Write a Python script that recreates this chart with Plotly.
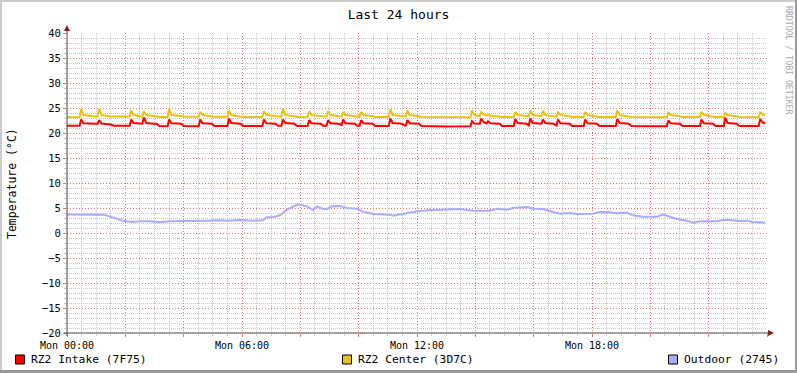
import plotly.graph_objects as go

# ---------------- data (minutes since Mon 00:00) ----------------
T_RZ = [0, 26, 29, 34, 60, 63, 66, 71, 90, 96,
        129, 132, 137, 152, 155, 158, 163, 185, 190,
        207, 210, 215, 235, 240,
        271, 274, 279, 298, 303,
        330, 333, 338, 357, 362,
        402, 405, 410, 429, 434, 441, 444, 449, 468, 473,
        495, 498, 503, 522, 527, 534, 537, 542, 560, 565, 568, 573, 592, 597, 602, 605, 610, 629, 634,
        662, 665, 670, 689, 694, 697, 700, 705, 724, 729,
        780,
        830, 833, 838, 849, 852, 857, 863, 866, 871, 890, 895,
        919, 922, 927, 945, 950, 953, 958, 973, 976, 979, 984, 1000, 1007, 1010, 1015, 1034, 1039,
        1063, 1066, 1071, 1090, 1095,
        1129, 1132, 1137, 1156, 1161,
        1200,
        1234, 1237, 1242, 1261, 1266,
        1302, 1305, 1310, 1329, 1334,
        1351, 1354, 1359, 1378, 1383,
        1423, 1426, 1431, 1436]

INTAKE = [21.45, 21.45, 22.7, 21.95, 21.85, 21.85, 22.55, 21.9, 21.7, 21.45,
          21.45, 22.7, 22.0, 21.85, 21.85, 23.1, 22.0, 21.8, 21.4,
          21.35, 22.7, 21.95, 21.85, 21.4,
          21.35, 22.7, 21.95, 21.85, 21.4,
          21.4, 22.9, 22.0, 21.85, 21.4,
          21.4, 22.7, 21.95, 21.85, 21.45, 21.45, 22.7, 22.0, 21.85, 21.4,
          21.4, 22.55, 21.95, 21.85, 21.45, 21.45, 22.55, 21.95, 21.85, 21.6, 22.7, 21.95, 21.85, 21.45, 21.45, 22.55, 21.95, 21.85, 21.4,
          21.4, 22.9, 22.0, 21.85, 21.5, 21.5, 22.55, 21.95, 21.85, 21.4,
          21.3,
          21.35, 22.35, 21.9, 21.85, 22.9, 22.2, 21.9, 22.35, 21.95, 21.85, 21.4,
          21.4, 22.8, 22.0, 21.85, 21.5, 22.9, 22.0, 21.85, 21.85, 22.7, 22.0, 21.85, 21.5, 22.7, 21.95, 21.85, 21.4,
          21.4, 22.7, 21.95, 21.85, 21.4,
          21.4, 22.8, 22.0, 21.85, 21.4,
          21.35,
          21.35, 22.5, 21.95, 21.85, 21.4,
          21.4, 22.7, 21.95, 21.85, 21.4,
          21.4, 23.05, 22.0, 21.85, 21.4,
          21.4, 22.8, 22.1, 22.0]

CENTER = [23.15, 23.15, 24.8, 23.6, 23.3, 23.3, 24.8, 23.6, 23.3, 23.3,
          23.3, 24.5, 23.6, 23.3, 23.3, 24.3, 23.6, 23.3, 23.2,
          23.2, 24.8, 23.6, 23.35, 23.3,
          23.25, 24.2, 23.6, 23.35, 23.25,
          23.25, 24.5, 23.6, 23.35, 23.2,
          23.2, 24.35, 23.6, 23.3, 23.25, 23.25, 24.9, 23.6, 23.35, 23.2,
          23.25, 24.35, 23.6, 23.35, 23.25, 23.25, 24.35, 23.6, 23.35, 23.3, 24.2, 23.6, 23.35, 23.25, 23.25, 24.2, 23.6, 23.35, 23.2,
          23.2, 24.7, 23.6, 23.35, 23.3, 23.3, 24.5, 23.6, 23.35, 23.2,
          23.15,
          23.15, 24.5, 23.6, 23.4, 24.2, 23.7, 23.45, 23.7, 23.45, 23.3, 23.2,
          23.2, 24.15, 23.6, 23.35, 23.3, 24.5, 23.6, 23.4, 23.4, 24.45, 23.6, 23.35, 23.3, 24.15, 23.6, 23.35, 23.2,
          23.2, 24.2, 23.6, 23.35, 23.2,
          23.2, 24.5, 23.6, 23.35, 23.2,
          23.15,
          23.15, 24.15, 23.6, 23.35, 23.2,
          23.2, 24.2, 23.6, 23.35, 23.2,
          23.2, 24.0, 23.6, 23.35, 23.2,
          23.15, 24.2, 23.7, 23.6]

T_OUT = [0, 74, 88, 115, 134, 150, 171, 191, 212, 239, 259, 288, 315, 329, 356, 383, 403,
         411, 424, 438, 453, 465, 475, 494, 506, 514, 527, 535, 545, 562, 576, 597, 607,
         630, 664, 671, 691, 712, 741, 773, 808, 835, 870, 885, 905, 917, 946, 959, 979,
         1000, 1014, 1035, 1049, 1082, 1096, 1117, 1131, 1152, 1164, 1185, 1214, 1226,
         1240, 1255, 1275, 1288, 1302, 1337, 1349, 1364, 1384, 1399, 1411, 1432, 1436]
OUTDOOR = [3.7, 3.67, 3.33, 2.47, 2.2, 2.33, 2.33, 2.13, 2.33, 2.33, 2.47, 2.47, 2.53, 2.47, 2.6, 2.47, 2.53,
           3.13, 3.2, 3.53, 4.67, 5.33, 5.73, 5.33, 4.6, 5.33, 4.8, 4.8, 5.33, 5.4, 5.0, 4.87, 4.33,
           3.8, 3.67, 3.47, 3.87, 4.2, 4.53, 4.67, 4.8, 4.47, 4.47, 4.87, 4.67, 5.0, 5.2, 4.87, 4.8,
           4.2, 3.87, 4.0, 3.8, 3.87, 4.2, 4.13, 3.93, 4.07, 3.53, 3.27, 3.27, 3.67,
           3.2, 2.8, 2.47, 2.07, 2.33, 2.33, 2.6, 2.6, 2.4, 2.47, 2.2, 2.13, 2.1]

SERIES_NAMES = ["RZ2 Intake (7F75)", "RZ2 Center (3D7C)", "Outdoor (2745)"]
SERIES_COLORS = ["#FF0000", "#EAC117", "#AAAAFF"]

X_TICKS = list(range(0, 1441, 120))
X_TICKTEXT = ["Mon 00:00", "", "", "Mon 06:00", "", "", "Mon 12:00", "", "",
              "Mon 18:00", "", "", ""]
Y_RANGE = [-20, 40]

TITLE = "Last 24 hours"
Y_TITLE = "Temperature (°C)"
WATERMARK = "RRDTOOL / TOBI OETIKER"

# ---------------- layout geometry ----------------
FW, FH = 797, 373
L, R, T, B = 67, 767, 33, 333
PW, PH = R - L, B - T
FONT = "DejaVu Sans Mono"


def px(xp):
    return (xp - L) / PW


def py(yp):
    return (B - yp) / PH


fig = go.Figure()
for tx, vals, name, col in [(T_RZ, INTAKE, SERIES_NAMES[0], SERIES_COLORS[0]),
                            (T_RZ, CENTER, SERIES_NAMES[1], SERIES_COLORS[1]),
                            (T_OUT, OUTDOOR, SERIES_NAMES[2], SERIES_COLORS[2])]:
    fig.add_trace(go.Scatter(x=tx, y=vals, mode="lines", name=name,
                             line=dict(color=col, width=2), showlegend=False,
                             cliponaxis=True, hoverinfo="skip"))

MGRID = "#E87070"
GRID = "#C8C8C8"
AXIS = "#4c4444"

# minor grid positions (skip those that coincide with major lines)
X_MINOR = [m for m in range(0, 1441, 30) if m % 120 != 0]
Y_MINOR = [v for v in range(-20, 41) if v % 5 != 0]

fig.update_xaxes(range=[0, 1440], tickmode="array", tickvals=X_TICKS, ticktext=X_TICKTEXT,
                 showgrid=True, gridcolor=MGRID, griddash="1px,2px", gridwidth=1,
                 zeroline=False, showline=False, ticks="outside", ticklen=3, tickcolor=MGRID,
                 tickfont=dict(family=FONT, size=10, color="#000"),
                 minor=dict(tickmode="array", tickvals=X_MINOR, showgrid=True, gridcolor=GRID,
                            griddash="1px,1px", gridwidth=1, ticks="outside", ticklen=2, tickcolor=GRID))
fig.update_yaxes(range=Y_RANGE, tickmode="linear", tick0=-20, dtick=5,
                 showgrid=True, gridcolor=MGRID, griddash="1px,2px", gridwidth=1,
                 zeroline=False, showline=False, ticks="outside", ticklen=3, tickcolor=MGRID,
                 tickfont=dict(family=FONT, size=10.5, color="#000"),
                 minor=dict(tickmode="array", tickvals=Y_MINOR, showgrid=True, gridcolor=GRID,
                            griddash="1px,1px", gridwidth=1, ticks="outside", ticklen=2, tickcolor=GRID))

shapes = []
# axis lines
shapes.append(dict(type="line", xref="paper", yref="paper", x0=px(L), x1=px(L), y0=py(B + 3), y1=py(29),
                   line=dict(color=AXIS, width=1), layer="above"))
shapes.append(dict(type="line", xref="paper", yref="paper", x0=px(L - 3), x1=px(R + 2), y0=py(B), y1=py(B),
                   line=dict(color=AXIS, width=1), layer="above"))
# arrows
ARROW = "#8B1E1E"
shapes.append(dict(type="path", xref="paper", yref="paper",
                   path=f"M {px(L-3)} {py(31)} L {px(L+3)} {py(31)} L {px(L)} {py(25)} Z",
                   fillcolor=ARROW, line=dict(color=ARROW, width=0), layer="above"))
shapes.append(dict(type="path", xref="paper", yref="paper",
                   path=f"M {px(R+1)} {py(B-3)} L {px(R+1)} {py(B+3)} L {px(R+7)} {py(B)} Z",
                   fillcolor=ARROW, line=dict(color=ARROW, width=0), layer="above"))
# frame shading
LIGHT, DARK = "#CBCBCB", "#999999"
shapes.append(dict(type="rect", xref="paper", yref="paper", x0=px(0), x1=px(2), y0=py(0), y1=py(FH),
                   fillcolor=LIGHT, line=dict(width=0), layer="above"))
shapes.append(dict(type="rect", xref="paper", yref="paper", x0=px(0), x1=px(FW), y0=py(0), y1=py(2),
                   fillcolor=LIGHT, line=dict(width=0), layer="above"))
shapes.append(dict(type="rect", xref="paper", yref="paper", x0=px(FW - 2), x1=px(FW), y0=py(0), y1=py(FH),
                   fillcolor=DARK, line=dict(width=0), layer="above"))
shapes.append(dict(type="rect", xref="paper", yref="paper", x0=px(0), x1=px(FW), y0=py(FH - 3), y1=py(FH),
                   fillcolor=DARK, line=dict(width=0), layer="above"))

annotations = []
# legend
LEG_SQ_X = [15.5, 342.5, 668.5]
LEG_Y = 359.5
for sx, name, col in zip(LEG_SQ_X, SERIES_NAMES, SERIES_COLORS):
    shapes.append(dict(type="rect", xref="paper", yref="paper", x0=px(sx), x1=px(sx + 9),
                       y0=py(LEG_Y - 4.5), y1=py(LEG_Y + 4.5),
                       fillcolor=col, line=dict(color="#000", width=1), layer="above"))
    annotations.append(dict(xref="paper", yref="paper", x=px(sx + 14), y=py(LEG_Y), text=name,
                            showarrow=False, xanchor="left", yanchor="middle", borderpad=0,
                            font=dict(family=FONT, size=11.3, color="#000")))
# y title
annotations.append(dict(xref="paper", yref="paper", x=px(12), y=py(184), text=Y_TITLE, textangle=-90,
                        showarrow=False, xanchor="center", yanchor="middle",
                        font=dict(family=FONT, size=11.5, color="#000")))
# watermark
annotations.append(dict(xref="paper", yref="paper", x=px(789), y=py(60), text=WATERMARK, textangle=90,
                        showarrow=False, xanchor="center", yanchor="middle",
                        font=dict(family=FONT, size=8.2, color="#A8A8A8")))

fig.update_layout(
    width=FW, height=FH,
    margin=dict(l=L, r=FW - R, t=T, b=FH - B, pad=0),
    paper_bgcolor="#FFFFFF", plot_bgcolor="#FFFFFF",
    title=dict(text=TITLE, x=0.5, xref="container", xanchor="center",
               y=1 - 14 / FH, yref="container", yanchor="middle",
               font=dict(family=FONT, size=13, color="#000")),
    shapes=shapes, annotations=annotations, showlegend=False,
    hovermode=False,
)

fig.write_html("out.html", config={"displayModeBar": False, "staticPlot": True},
               post_script="document.body.style.margin='0';")
